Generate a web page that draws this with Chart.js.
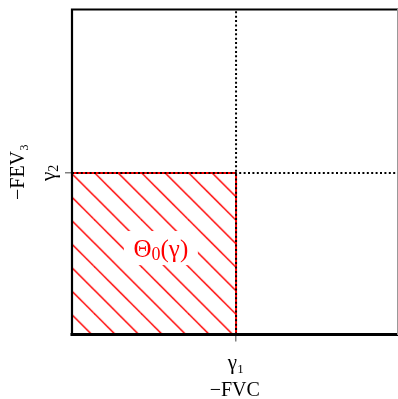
<!DOCTYPE html>
<html lang="en">
<head>
  <meta charset="UTF-8">
  <title>Θ0(γ) region</title>
  <script src="https://cdn.jsdelivr.net/npm/chart.js"></script>
  <style>
    html, body { margin: 0; padding: 0; background: #fff; }
    #wrap { width: 398px; height: 399px; }
  </style>
</head>
<body>
  <div id="wrap"><canvas id="regionChart" width="398" height="399"></canvas></div>
  <script>
    // axis ranges and the two cut points
    const xRange = [0, 1];
    const yRange = [0, 1];
    const cutX = [0.504];
    const cutY = [0.497];
    const tickLabelsX = ['γ₁'];
    const tickLabelsY = ['γ', '2'];
    const regionLabel = ['Θ', '0', '(γ)'];
    const axisTitles = ['−FVC', '−FEV₃'];

    const SERIF = "'Liberation Serif', 'DejaVu Serif', serif";
    const RED = '#ff0000';

    const canvas = document.getElementById('regionChart');
    const ctx = canvas.getContext('2d');

    // diagonal hatch, lines running down-right
    const tile = document.createElement('canvas');
    tile.width = 47; tile.height = 47;
    const tc = tile.getContext('2d');
    tc.strokeStyle = RED;
    tc.lineWidth = 1.5;
    for (let k = -2; k <= 2; k++) {
      tc.beginPath();
      tc.moveTo(-5, -5 + k * 23.5);
      tc.lineTo(52, 52 + k * 23.5);
      tc.stroke();
    }
    const hatch = ctx.createPattern(tile, 'repeat');
    hatch.setTransform(new DOMMatrix([1, 0, 0, 1, 0, 7.7]));

    const g1 = cutX[0], g2 = cutY[0];

    // text with a subscript, drawn left to right from x
    function subText(c, parts, x, y, big, small, drop) {
      const widths = [];
      c.font = big + 'px ' + SERIF; widths[0] = c.measureText(parts[0]).width;
      c.font = small + 'px ' + SERIF; widths[1] = c.measureText(parts[1]).width;
      c.font = big + 'px ' + SERIF; widths[2] = parts[2] ? c.measureText(parts[2]).width : 0;
      const total = widths[0] + widths[1] + widths[2];
      let px = x - total / 2;
      c.textAlign = 'left';
      c.textBaseline = 'alphabetic';
      c.font = big + 'px ' + SERIF; c.fillText(parts[0], px, y); px += widths[0];
      c.font = small + 'px ' + SERIF; c.fillText(parts[1], px, y + drop); px += widths[1];
      if (parts[2]) { c.font = big + 'px ' + SERIF; c.fillText(parts[2], px, y); }
      return total;
    }

    const frame = {
      id: 'frame',
      afterDatasetsDraw(chart) {
        const c = chart.ctx, a = chart.chartArea;
        const sx = chart.scales.x, sy = chart.scales.y;
        c.save();
        c.lineCap = 'square';
        c.strokeStyle = '#000';
        c.lineWidth = 2.2;
        c.beginPath(); c.moveTo(a.left, a.bottom); c.lineTo(a.left, a.top); c.lineTo(a.right, a.top); c.stroke();
        c.lineWidth = 3;
        c.beginPath(); c.moveTo(a.left, a.bottom); c.lineTo(a.right, a.bottom); c.stroke();
        c.strokeStyle = '#999';
        c.lineWidth = 1;
        c.beginPath(); c.moveTo(a.right, a.top); c.lineTo(a.right, a.bottom); c.stroke();

        // region label on a white box
        const lx = sx.getPixelForValue(0.273), ly = sy.getPixelForValue(0.263);
        c.fillStyle = '#fff';
        c.fillRect(lx - 37, ly - 18, 74, 34);
        c.fillStyle = RED;
        subText(c, regionLabel, lx, ly + 8, 25, 18, 3);

        // rotated y tick label
        c.fillStyle = '#000';
        c.translate(55, sy.getPixelForValue(g2));
        c.rotate(-Math.PI / 2);
        subText(c, tickLabelsY, 0, 0, 21, 14, 3);
        c.restore();
      }
    };

    new Chart(ctx, {
      type: 'scatter',
      data: {
        datasets: [
          { data: [{x: xRange[0], y: g2}, {x: g1, y: g2}], showLine: true, fill: 'origin',
            backgroundColor: hatch, borderColor: RED, borderWidth: 2, pointRadius: 0, order: 4 },
          { data: [{x: g1, y: yRange[0]}, {x: g1, y: g2}], showLine: true,
            borderColor: RED, borderWidth: 2, pointRadius: 0, order: 3 },
          { data: [{x: g1, y: yRange[0]}, {x: g1, y: yRange[1]}], showLine: true,
            borderColor: '#000', borderWidth: 2, borderDash: [2, 2.4], pointRadius: 0, order: 2 },
          { data: [{x: xRange[0], y: g2}, {x: xRange[1], y: g2}], showLine: true,
            borderColor: '#000', borderWidth: 2, borderDash: [2, 2.4], pointRadius: 0, order: 1 }
        ]
      },
      options: {
        responsive: false,
        animation: false,
        devicePixelRatio: 1,
        layout: { padding: { top: 9.5, right: 0.5, left: 0, bottom: 0 } },
        plugins: { legend: { display: false }, tooltip: { enabled: false } },
        scales: {
          x: {
            type: 'linear', min: xRange[0], max: xRange[1],
            afterFit(s) { s.height = 64.5; },
            afterBuildTicks(s) { s.ticks = cutX.map(v => ({ value: v })); },
            border: { display: false },
            grid: { drawOnChartArea: false, drawTicks: true, tickLength: 7, color: '#808080', lineWidth: 1.5 },
            ticks: { color: '#000', font: { family: SERIF, size: 21 }, padding: 9,
                     callback: (v, i) => tickLabelsX[i] },
            title: { display: true, text: axisTitles[0], color: '#000',
                     font: { family: SERIF, size: 20, lineHeight: 0.8 }, padding: { top: 0, bottom: 0 } }
          },
          y: {
            type: 'linear', min: yRange[0], max: yRange[1],
            afterFit(s) { s.width = 72; },
            afterBuildTicks(s) { s.ticks = cutY.map(v => ({ value: v })); },
            border: { display: false },
            grid: { drawOnChartArea: false, drawTicks: true, tickLength: 7, color: '#808080', lineWidth: 1.5 },
            ticks: { display: false },
            title: { display: true, text: axisTitles[1], color: '#000',
                     font: { family: SERIF, size: 20, lineHeight: 1 }, padding: { top: 9, bottom: 0 } }
          }
        }
      },
      plugins: [frame]
    });
  </script>
</body>
</html>
